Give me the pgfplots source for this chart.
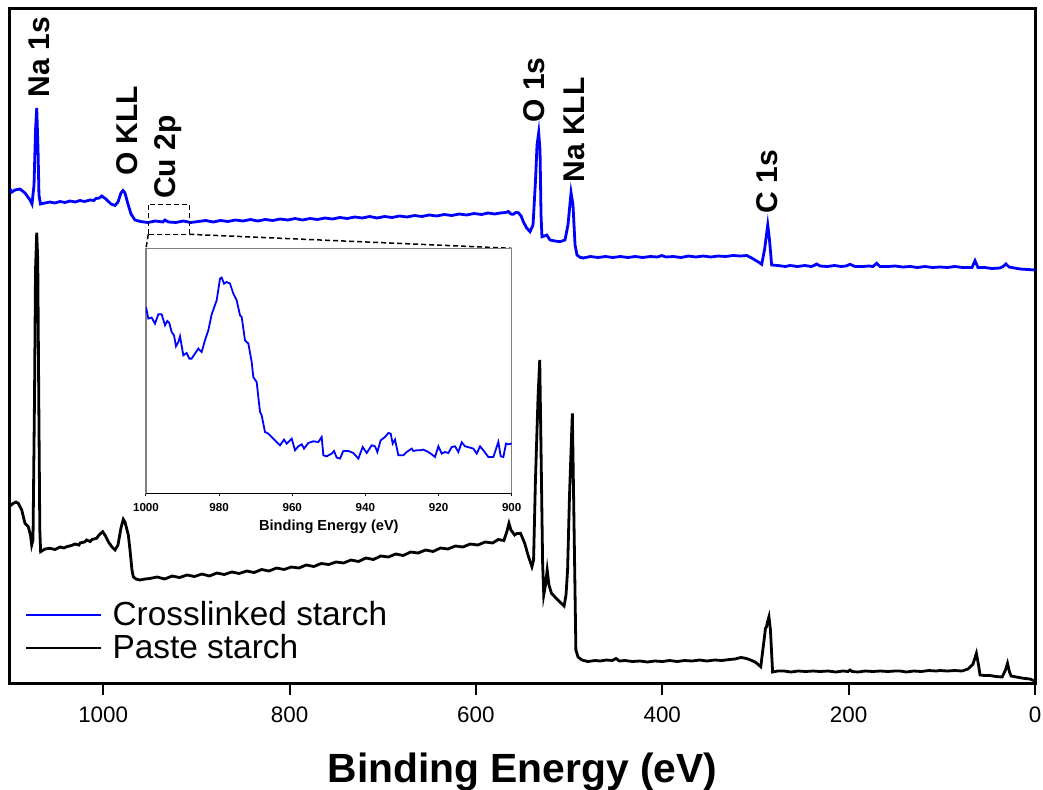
\documentclass[border=0pt]{standalone}
\usepackage{pgfplots}
\pgfplotsset{compat=1.18}
\usepackage{fontspec}
\setmainfont{Liberation Sans}
\definecolor{pureblue}{RGB}{0,0,255}
\definecolor{framegray}{RGB}{128,128,128}
\begin{document}
\begin{tikzpicture}
\useasboundingbox (0,0) rectangle (521.5pt,394.5pt);
\begin{axis}[
 at={(5pt,53pt)}, anchor=south west,
 width=512.5pt, height=337pt, scale only axis,
 xmin=0, xmax=1100, ymin=0, ymax=674, x dir=reverse,
 xtick={0,200,400,600,800,1000}, ytick=\empty,
 xtick pos=left, tick align=outside, major tick length=6pt,
 tick style={black, line width=1pt},
 axis line style={line width=1.5pt},
 xticklabel style={font=\fontsize{11.2}{13}\selectfont, yshift=-2.5pt},
 /pgf/number format/assume math mode=true,
 /pgf/number format/set thousands separator={},
 xlabel={Binding Energy (eV)},
 xlabel style={font=\bfseries\fontsize{20.4}{24}\selectfont, at={(axis description cs:0.5,0)}, anchor=center, yshift=-44.5pt},
 legend style={draw=none, fill=none, at={(axis description cs:0.0146,0.1217)}, anchor=north west, inner sep=0pt, nodes={inner sep=0pt, text depth=0.15em}, column sep=5pt, row sep=3pt, font=\fontsize{16.7}{20}\selectfont},
 legend cell align=left,
 legend image code/.code={\draw[#1, line width=1.1pt] (0pt,0pt) -- (37.5pt,0pt);},
]
\addplot[pureblue, line width=1.4pt] table {
1100 494
1097.9 491
1094.6 493
1089.3 494
1083.9 490
1078.5 483
1076.4 479
1074.2 498
1072.6 553
1071.3 575
1069.9 533
1068.9 488
1067.3 479
1062.4 480
1057.1 481
1052 480
1046.3 481.5
1041 480.5
1035.6 482
1030 481
1024.9 482.5
1020 481.5
1014.1 483
1010 482.5
1007.7 484.5
1004 485
1001.6 487
997 484
991.6 479
987.3 477.5
984.1 481
980.9 490
978.7 492.5
976.6 490
973.4 479
970.1 469
965.9 463
960 461.5
952 460.5
944 462
936 461
933.7 463
930 461
922 460.5
914 462
906 460.5
898 461.5
890 462.5
882 461
874 462.5
866 461.5
858 463
850 462
842 463.5
834 462
826 463.5
818 462.5
810 464
802 463
794 464.5
786 463
778 464.5
770 463.5
762 465
754 464
746 465.5
738 464.5
730 466
722 465
714 466.5
706 465
698 466.5
690 465.5
682 467
674 466
666 467.5
658 466.5
650 468
642 467
634 468.5
626 467.5
618 469
610 468
602 469.5
594 468.5
587 470
580 469
574 470
568 470.5
565.2 471.5
562.5 469
560.2 468.7
557 470.5
554.5 470.3
551.5 467
549.1 461.3
545.5 455
541.9 451.3
538.7 458
536 503
534.4 538
532.6 550.3
531.2 533
530.1 468
529.1 446.3
526.5 447
524 448
520.5 443
515 442
509.8 441.3
504.4 443
501.2 458
497.9 490.3
495.8 478
493.6 438
491.5 428
488.3 425.7
485 425
477 426.5
469 425.5
461 426.5
453 425.5
445 426.5
437 425.5
429 426.5
421 425.5
413 426.5
405 426
400.6 427.5
396 426
388 426.5
380 425.5
372 427
364 426
356 427
348 426
340 427
332 426.5
324 427.5
316 427
309.4 427.5
304 425
300.5 423
296 420.5
293.3 418.7
290.3 433
286.8 458
284.9 443
282.6 418
276 417.5
268 416.5
262.9 417.5
255 416.5
247 417.5
240 416.5
237.2 417.5
234.3 419
230.7 417
223 416.5
215 417.5
208 416.5
202.8 417
198.5 418.7
193.2 416.5
185 416.5
178 417
173.9 416.5
169.9 419.7
166.3 416.5
158 416.5
150 417
142 416
134 416.5
126 415.5
118 416.5
110 415.5
102 416
94 415.5
86 416.5
78 415.5
70 415.5
67.6 415.5
64.4 422.3
61.2 415.5
54 415.5
46 414.5
37.5 415
34.3 416.5
31.1 419
27.9 416
22 415
16.1 414
8 413.5
0 413
};
\addlegendentry{Crosslinked starch}
\addplot[black, line width=1.4pt] table {
1100 177
1096.5 179.7
1093.6 181
1091.1 179.7
1087.4 173
1083.9 159.7
1080.4 156.3
1078 148
1076.7 138
1075.3 143
1073.7 283
1072.6 413
1071.3 450.3
1070.2 423
1069.1 283
1068 153
1067.1 131.3
1062.4 134
1057.1 134.7
1051.7 133.5
1046.3 136
1042 135
1039.2 136.3
1034 137.5
1030.2 139
1026 138
1024.9 140
1020 141
1017.7 143
1014 141.5
1012 143.5
1007 144.7
1004.5 148
1000.5 151.3
997.5 147
994.5 141.3
990.5 136
987.3 133
984.1 138
980.9 155
978.4 163.7
976.6 161
973 148
971.2 133
969.1 113
967.7 106.3
964.8 104
960.5 103
955 104
950 104.5
942 106
934 104
926 107
918 105.5
910 108
902 106.5
894 109
886 107
878 110
870 108.5
862 111
854 109.5
846 112
838 110.5
830 113.5
822 112
814 115
806 113.5
798 116
790 115
782 118
774 116.5
766 119.5
758 118.5
750 121
742 120
734 123
726 121.5
718 125
710 123.5
702 127
694 126
686 129
678 127.5
670 131
662 130
654 133
646 131.5
638 135
630 134
622 137
614 136
606 139
598 138
590 141
582 140
576 143.5
570 142.5
566.6 152
564.5 159.7
562.4 153
558.4 148
555.9 149.5
552.1 149.7
547.6 139.7
544.1 128
539.9 116.3
538.1 123
536.1 203
533.3 286
531.5 323
529.9 220
528.4 120
527.2 88
525.3 98
523.5 113
521.6 98
518.9 89.7
514.1 85
509.8 81
505.4 77
503.3 88
501.6 113
499.6 186
496.5 269.7
494.6 153
492.7 33
490.4 26
486.2 23
480 21.5
472 22.5
466.8 22
460 23
453.6 22.5
449.6 24.5
446 22
440 22.5
432 21.5
424 22
416 21
408 22
400 21.5
392 22.5
384 21.5
376 22.5
368 22
360 23
352 22
344 23
336 22.5
328 23.5
321.9 24
318 25
315.5 25.5
312 25
308 24
304 22.5
300.5 21
297 18.5
294.3 16.3
291.4 38
289.2 55
288.2 56
287.1 61
285.5 66.3
283.9 53
281.6 11
276 12
269.3 12
262 11
254 12
246 11.5
238 12
230.7 11.5
222 12
214 11
206 12
200.6 11.5
198.5 13
196.3 11.5
190 11
182 12
174 11.5
166 12
158 11.5
150 12
144.9 12
138 11
130 12
122 11.5
114 12.5
106 12
102 12.5
94 12
86 12.5
78.3 12
71.9 14
66.5 19
62.9 29.7
60.6 18
59 8
54 7.5
48.3 7.5
42 6.5
35.2 6
31.7 13
29.5 19.7
27.4 11
25.6 7
20 6
12.2 4.7
5.4 4
0 2
};
\addlegendentry{Paste starch}
\draw[black, line width=0.75pt, dash pattern=on 2.5pt off 1.5pt] (axis cs:951.6,448.7) rectangle (axis cs:907.6,478.7);
\draw[black, line width=0.75pt, dash pattern=on 2.5pt off 1.5pt] (axis cs:951.6,448.7) -- (axis cs:954,434.7);
\draw[black, line width=0.75pt, dash pattern=on 2.5pt off 1.5pt] (axis cs:907.6,448.7) -- (axis cs:561.6,434.7);
\node[rotate=90, font=\bfseries\fontsize{15}{18}\selectfont] at (axis cs:1068.3,626) {Na 1s};
\node[rotate=90, font=\bfseries\fontsize{15}{18}\selectfont] at (axis cs:974.4,552) {O KLL};
\node[rotate=90, font=\bfseries\fontsize{15}{18}\selectfont] at (axis cs:930.4,526) {Cu 2p};
\node[rotate=90, font=\bfseries\fontsize{15}{18}\selectfont] at (axis cs:537.6,593) {O 1s};
\node[rotate=90, font=\bfseries\fontsize{15}{18}\selectfont] at (axis cs:494.7,553) {Na KLL};
\node[rotate=90, font=\bfseries\fontsize{15}{18}\selectfont] at (axis cs:287.1,501.5) {C 1s};
\end{axis}
\begin{axis}[
 at={(73pt,147.85pt)}, anchor=south west,
 width=182.85pt, height=122.5pt, scale only axis,
 xmin=900, xmax=1000, x dir=reverse, ymin=0, ymax=245,
 xtick={900,920,940,960,980,1000}, ytick=\empty,
 xtick pos=left, tick align=outside, major tick length=1.5pt,
 axis line style={draw=framegray, line width=0.6pt},
 tick style={black, line width=0.5pt},
 xticklabel style={font=\bfseries\fontsize{5.8}{7}\selectfont},
 /pgf/number format/assume math mode=true,
 /pgf/number format/set thousands separator={},
 xlabel={Binding Energy (eV)},
 xlabel style={font=\bfseries\fontsize{7.3}{9}\selectfont, at={(axis description cs:0.5,0)}, anchor=center, yshift=-16.7pt},
 axis background/.style={fill=white},
]
\addplot[pureblue, line width=0.9pt] table {
1000 186.3
999.36 174.7
998.45 175.7
997.54 169.7
996.63 179
995.72 179
994.80 168
994.17 172.3
993.62 170.3
992.98 161.3
992.34 158
991.80 147
991.16 151.3
990.70 157
989.79 138
988.88 140.3
988.15 134.7
987.51 134.7
986.60 139.7
985.69 144.7
984.78 141.3
983.87 153
982.95 163
982.04 179
980.67 193
979.76 214.7
979.31 215.7
978.67 209.7
977.94 211.3
977.03 209.7
976.12 199.7
975.21 193
974.29 178
973.84 176.3
972.93 153
972.01 149.7
971.10 131.3
970.65 116.3
969.74 111.3
969.28 96.3
968.82 81.3
968.37 78
967.46 61.3
966.55 59.7
965.63 56.3
964.72 53
963.35 48
962.26 53.7
961.53 49.7
960.16 54.7
959.25 43
958.34 47
957.43 49
956.79 44.7
955.61 50.3
954.24 52
952.87 51.3
951.96 56.3
951.50 38
950.59 37
949.22 39.7
948.59 42.3
947.86 35.7
946.95 34.7
946.03 42.3
944.67 42.3
943.30 40.3
941.93 34.7
940.75 46.3
939.65 40.3
938.29 48
937.37 47
936.74 41.3
935.83 53
934.64 56.3
933.73 60.3
933.09 59.7
932.54 49.7
931.90 53.7
930.99 38
929.63 38
928.71 41.3
927.35 44.7
926.89 42.3
925.98 43
925.07 43
924.16 43.7
922.79 41.3
921.88 39
920.97 36.3
920.05 47
919.14 39.7
918.23 41.3
917.32 40.3
916.41 46.3
915.50 47
914.59 41.3
913.67 51
912.76 47
911.39 45.7
910.48 44.7
909.57 39.7
908.66 47
907.75 43
906.38 36.3
905.01 36.3
903.65 51.3
903.01 37
902.28 36.3
901.55 49.7
900.91 49
900.00 49.7
};
\draw[black, line width=0.6pt] (rel axis cs:0,0) -- (rel axis cs:1,0);
\end{axis}
\end{tikzpicture}
\end{document}
